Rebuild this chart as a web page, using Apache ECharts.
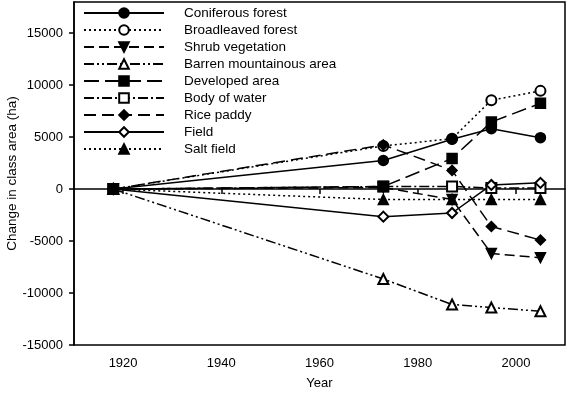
<!DOCTYPE html>
<html>
<head>
<meta charset="utf-8">
<script src="https://cdn.jsdelivr.net/npm/echarts@6/dist/echarts.min.js"></script>
<style>
  html, body { margin: 0; padding: 0; background: #fff; }
  #main { width: 567px; height: 393px; }
</style>
</head>
<body>
<div id="main"></div>
<script>
// survey years and change in class area (ha)
var years = [1918, 1973, 1987, 1995, 2005];
var coniferous = [0, 2750, 4800, 5800, 4950];
var broadleaved = [0, 4150, 4850, 8550, 9450];
var shrub = [0, 150, -1000, -6200, -6600];
var barren = [0, -8650, -11100, -11400, -11750];
var developed = [0, 250, 2950, 6450, 8250];
var water = [0, 250, 250, 100, 100];
var rice = [0, 4250, 1800, -3600, -4900];
var field = [0, -2650, -2300, 400, 600];
var salt = [0, -1000, -1000, -1000, -1000];

var xTicks = [1920, 1940, 1960, 1980, 2000];
var yTicks = [-15000, -10000, -5000, 0, 5000, 10000, 15000];

var font = 'Liberation Sans, Arial, sans-serif';

function pts(vals) {
    return years.map(function (y, i) { return [y, vals[i]]; });
}

function mk(name, vals, symbol, dash, rotate) {
    return {
        name: name,
        type: 'line',
        data: pts(vals),
        symbol: symbol,
        symbolSize: 10,
        symbolRotate: rotate || 0,
        showAllSymbol: true,
        lineStyle: { color: '#000', width: 1.5, type: dash },
        itemStyle: { color: '#000', borderColor: '#000', borderWidth: 1.5 },
        emphasis: { disabled: true }
    };
}

var chart = echarts.init(document.getElementById('main'));
var option = {
    animation: false,
    backgroundColor: '#fff',
    grid: {
        left: 74, right: 2, top: 2, bottom: 48,
        outerBoundsMode: 'none',
        containLabel: false,
        show: true, borderColor: '#000', borderWidth: 1.5
    },
    legend: {
        orient: 'vertical',
        left: 83,
        top: 6,
        padding: 0,
        itemWidth: 80,
        itemHeight: 12,
        itemGap: 3,
        selectedMode: false,
        textStyle: { fontFamily: font, fontSize: 13.5, color: '#000', padding: [0, 0, 0, 15] },
        data: ['Coniferous forest', 'Broadleaved forest', 'Shrub vegetation', 'Barren mountainous area',
            'Developed area', 'Body of water', 'Rice paddy', 'Field', 'Salt field']
    },
    xAxis: {
        type: 'value',
        min: 1910,
        max: 2010,
        name: 'Year',
        nameLocation: 'middle',
        nameGap: 32,
        nameMoveOverlap: false,
        nameTextStyle: { fontFamily: font, fontSize: 13, color: '#000', verticalAlign: 'top' },
        splitLine: { show: false },
        axisLine: { lineStyle: { color: '#000', width: 1.5 } },
        axisTick: { length: 5, lineStyle: { color: '#000', width: 1.5 }, customValues: xTicks },
        axisLabel: {
            fontFamily: font, fontSize: 13, color: '#000', margin: 12, customValues: xTicks,
            formatter: function (v) { return String(v); }
        }
    },
    yAxis: {
        type: 'value',
        min: -15000,
        max: 18000,
        name: 'Change in class area (ha)',
        nameLocation: 'middle',
        nameGap: 55,
        nameMoveOverlap: false,
        nameTextStyle: { fontFamily: font, fontSize: 13.5, color: '#000' },
        splitLine: { show: false },
        axisLine: { lineStyle: { color: '#000', width: 1.5 } },
        axisTick: { length: 5, lineStyle: { color: '#000', width: 1.5 }, customValues: yTicks },
        axisLabel: {
            fontFamily: font, fontSize: 13, color: '#000', margin: 11, customValues: yTicks,
            formatter: function (v) { return String(v); }
        }
    },
    series: [
        mk('Broadleaved forest', broadleaved, 'emptyCircle', [2, 3]),
        mk('Barren mountainous area', barren, 'emptyTriangle', [10, 3, 2, 3, 2, 3]),
        mk('Body of water', water, 'emptyRect', [10, 3, 2, 3]),
        mk('Field', field, 'emptyDiamond', 'solid'),
        mk('Shrub vegetation', shrub, 'triangle', [10, 5], 180),
        mk('Developed area', developed, 'rect', [15, 6]),
        mk('Salt field', salt, 'triangle', [2, 3]),
        mk('Rice paddy', rice, 'diamond', [12, 6]),
        mk('Coniferous forest', coniferous, 'circle', 'solid')
    ]
};
chart.setOption(option);
</script>
</body>
</html>
